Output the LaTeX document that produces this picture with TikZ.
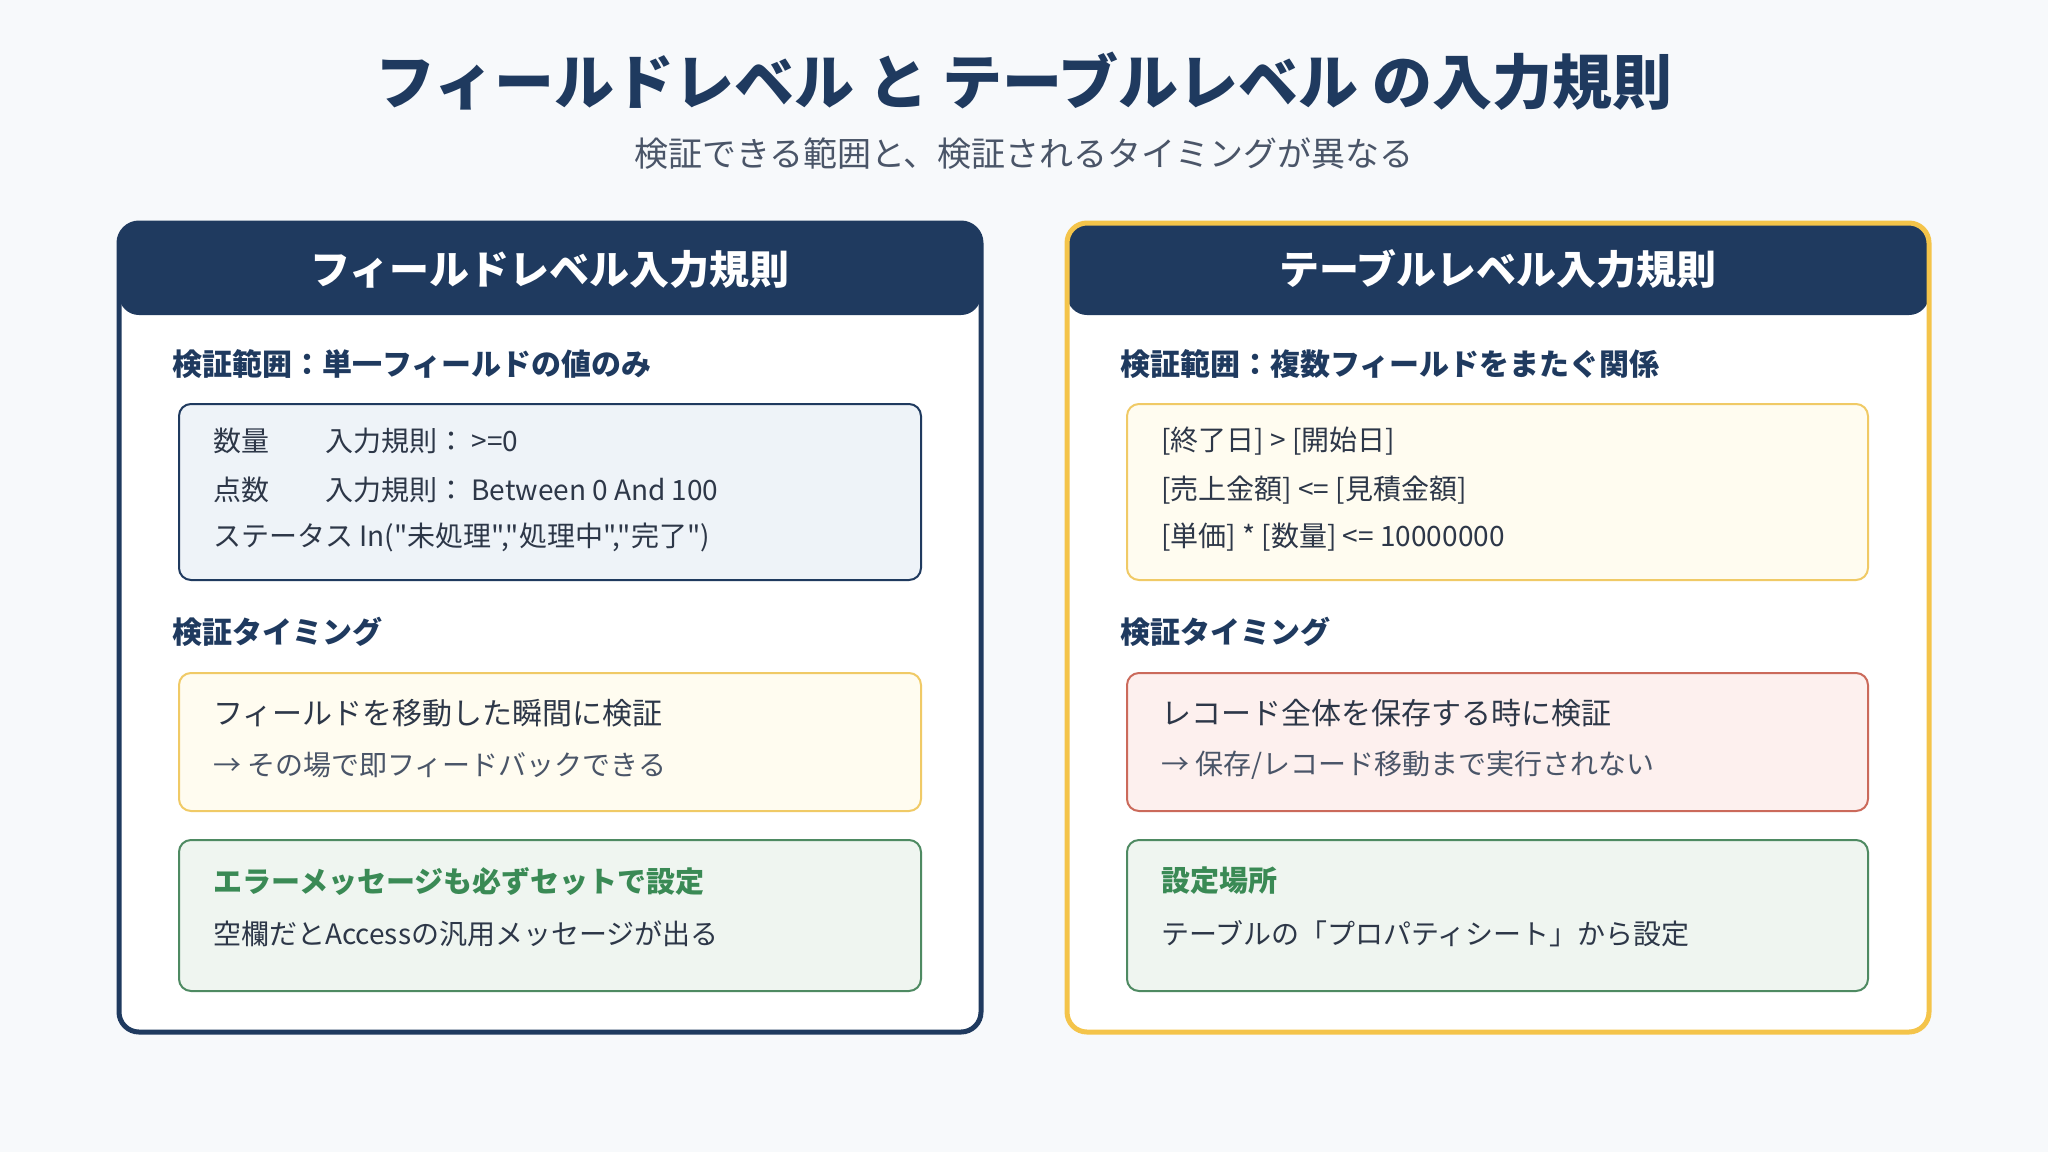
\documentclass[tikz,border=0pt]{standalone}
\usepackage{fontspec}
\setmainfont{Noto Sans CJK JP}[Ligatures=TeXOff]
\definecolor{bgc}{HTML}{F7F9FB}
\definecolor{navy}{HTML}{1F3A5F}
\definecolor{gold}{HTML}{F4C44A}
\definecolor{goldlt}{HTML}{F0CA66}
\definecolor{creamfill}{HTML}{FFFCF0}
\definecolor{bluefill}{HTML}{EEF3F8}
\definecolor{redline}{HTML}{CB6A5B}
\definecolor{redfill}{HTML}{FDF0EE}
\definecolor{greenline}{HTML}{4E8A62}
\definecolor{greenfill}{HTML}{EFF5F0}
\definecolor{greentxt}{HTML}{3A8A55}
\definecolor{darktxt}{HTML}{2D3748}
\definecolor{graytxt}{HTML}{4A5568}
\newcommand\myfs[1]{\fontsize{#1}{#1}\selectfont}
\tikzset{
  txt/.style={anchor=west, inner sep=0pt, text=darktxt},
  panelfill/.style={fill=white, rounded corners=20pt},
  headbar/.style={fill=navy, rounded corners=20pt},
  headtxt/.style={inner sep=0pt, text=white, font=\myfs{40}\bfseries},
  seclabel/.style={anchor=west, inner sep=0pt, text=navy, font=\myfs{30}\bfseries},
  codebox/.style={draw=navy, line width=2pt, fill=bluefill, rounded corners=12pt},
  yelbox/.style={draw=goldlt, line width=2pt, fill=creamfill, rounded corners=12pt},
  redbox/.style={draw=redline, line width=2pt, fill=redfill, rounded corners=12pt},
  grnbox/.style={draw=greenline, line width=2pt, fill=greenfill, rounded corners=12pt},
  codetxt/.style={txt, font=\myfs{28}},
  maintxt/.style={txt, font=\myfs{30}},
  subtxt/.style={txt, text=graytxt, font=\myfs{28}},
  grntitle/.style={txt, text=greentxt, font=\myfs{29}\bfseries},
  bodytxt/.style={txt, font=\myfs{28}},
}
\begin{document}
\begin{tikzpicture}[x=1pt,y=-1pt]
\useasboundingbox (0,0) rectangle (2048,1152);
\fill[bgc] (0,0) rectangle (2048,1152);

% title
\node[inner sep=0pt, text=navy, font=\myfs{60}\bfseries] (title) at (1024,81) {フィールドレベル と テーブルレベル の入力規則};
\node[inner sep=0pt, text=graytxt, font=\myfs{34}] (subtitle) at (1024,154) {検証できる範囲と、検証されるタイミングが異なる};

% ===== left panel =====
\fill[panelfill] (119,223) rectangle (981,1032);
\fill[headbar] (119,223) rectangle (981,315);
\draw[navy, line width=5pt, rounded corners=20pt] (119,223) rectangle (981,1032);
\node[headtxt] (lhead) at (550,269) {フィールドレベル入力規則};

\node[seclabel] (lsec1) at (172,364) {検証範囲：単一フィールドの値のみ};
\draw[codebox] (179,404) rectangle (921,580);
\node[codetxt] (la1) at (213,441) {数量};
\node[codetxt] (la2) at (325,441) {入力規則： >=0};
\node[codetxt] (lb1) at (213,490) {点数};
\node[codetxt] (lb2) at (325,490) {入力規則： Between 0 And 100};
\node[codetxt] (lc1) at (213,537) {ステータス In("未処理","処理中","完了")};

\node[seclabel] (lsec2) at (172,632) {検証タイミング};
\draw[yelbox] (179,673) rectangle (921,811);
\node[maintxt] (lt1) at (213,713) {フィールドを移動した瞬間に検証};
\node[subtxt] (lt2) at (213,765) {→ その場で即フィードバックできる};

\draw[grnbox] (179,840) rectangle (921,991);
\node[grntitle] (lg1) at (213,881) {エラーメッセージも必ずセットで設定};
\node[bodytxt] (lg2) at (213,934) {空欄だとAccessの汎用メッセージが出る};

% ===== right panel =====
\fill[panelfill] (1067,223) rectangle (1929,1032);
\fill[headbar] (1067,223) rectangle (1929,315);
\draw[gold, line width=5pt, rounded corners=20pt] (1067,223) rectangle (1929,1032);
\node[headtxt] (rhead) at (1498,269) {テーブルレベル入力規則};

\node[seclabel] (rsec1) at (1120,364) {検証範囲：複数フィールドをまたぐ関係};
\draw[yelbox] (1127,404) rectangle (1868,580);
\node[codetxt] (ra) at (1161,441) {[終了日] > [開始日]};
\node[codetxt] (rb) at (1161,490) {[売上金額] <= [見積金額]};
\node[codetxt] (rc) at (1161,537) {[単価] * [数量] <= 10000000};

\node[seclabel] (rsec2) at (1120,632) {検証タイミング};
\draw[redbox] (1127,673) rectangle (1868,811);
\node[maintxt] (rt1) at (1161,713) {レコード全体を保存する時に検証};
\node[subtxt] (rt2) at (1161,765) {→ 保存/レコード移動まで実行されない};

\draw[grnbox] (1127,840) rectangle (1868,991);
\node[grntitle] (rg1) at (1161,881) {設定場所};
\node[bodytxt] (rg2) at (1161,934) {テーブルの「プロパティシート」から設定};
\end{tikzpicture}
\end{document}
